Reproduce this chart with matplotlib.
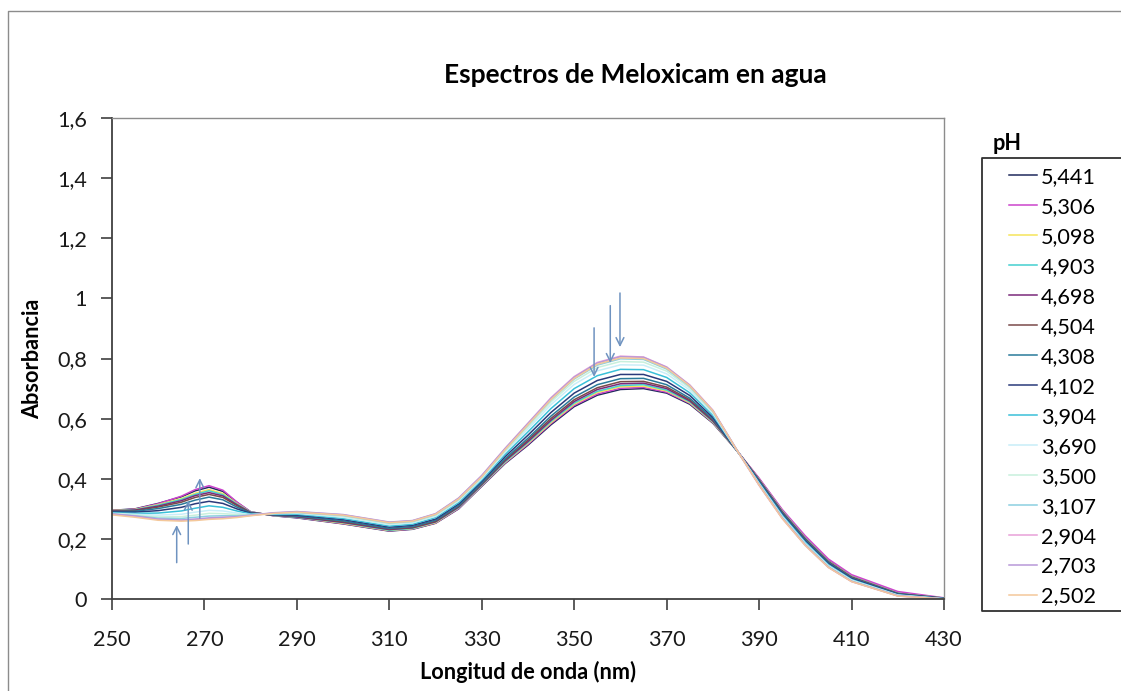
import matplotlib
matplotlib.use('Agg')
import matplotlib.pyplot as plt
from matplotlib.lines import Line2D

plt.rcParams['font.family'] = ['Lato', 'DejaVu Sans']

# wavelengths (nm) shared by every spectrum
wl = [250, 255, 260, 265, 268, 271, 274, 277, 280, 285, 290, 300, 310, 315, 320, 325,
      330, 335, 340, 345, 350, 355, 360, 365, 370, 375, 380, 385, 390, 395, 400,
      405, 410, 420, 430]

ph_labels = ['5,441', '5,306', '5,098', '4,903', '4,698', '4,504', '4,308', '4,102',
             '3,904', '3,690', '3,500', '3,107', '2,904', '2,703', '2,502']

ph_5441 = [0.295, 0.300, 0.318, 0.340, 0.360, 0.372, 0.358, 0.322, 0.290, 0.277, 0.270, 0.250, 0.226, 0.232, 0.252, 0.300,
           0.375, 0.450, 0.512, 0.580, 0.640, 0.678, 0.697, 0.700, 0.685, 0.648, 0.585, 0.497, 0.400, 0.295, 0.205,
           0.128, 0.076, 0.020, 0.003]
ph_5306 = [0.294, 0.299, 0.317, 0.342, 0.364, 0.377, 0.362, 0.323, 0.290, 0.277, 0.271, 0.251, 0.227, 0.233, 0.253, 0.301,
           0.376, 0.452, 0.515, 0.584, 0.644, 0.682, 0.701, 0.704, 0.688, 0.651, 0.587, 0.497, 0.402, 0.298, 0.210,
           0.133, 0.081, 0.025, 0.004]
ph_5098 = [0.294, 0.298, 0.314, 0.334, 0.352, 0.364, 0.351, 0.318, 0.289, 0.278, 0.272, 0.252, 0.228, 0.234, 0.254, 0.303,
           0.378, 0.454, 0.518, 0.587, 0.648, 0.687, 0.706, 0.708, 0.692, 0.653, 0.588, 0.497, 0.398, 0.293, 0.203,
           0.126, 0.075, 0.019, 0.003]
ph_4903 = [0.293, 0.297, 0.312, 0.331, 0.348, 0.360, 0.347, 0.316, 0.289, 0.278, 0.272, 0.254, 0.229, 0.235, 0.256, 0.304,
           0.379, 0.456, 0.521, 0.591, 0.652, 0.691, 0.710, 0.713, 0.695, 0.656, 0.590, 0.497, 0.397, 0.292, 0.202,
           0.125, 0.074, 0.019, 0.003]
ph_4698 = [0.293, 0.296, 0.309, 0.327, 0.344, 0.354, 0.343, 0.314, 0.288, 0.279, 0.273, 0.255, 0.231, 0.237, 0.257, 0.306,
           0.381, 0.459, 0.524, 0.595, 0.657, 0.697, 0.716, 0.718, 0.700, 0.659, 0.592, 0.498, 0.396, 0.290, 0.200,
           0.124, 0.073, 0.018, 0.003]
ph_4504 = [0.292, 0.294, 0.306, 0.322, 0.338, 0.348, 0.338, 0.311, 0.287, 0.279, 0.275, 0.257, 0.233, 0.238, 0.259, 0.308,
           0.383, 0.462, 0.529, 0.601, 0.663, 0.703, 0.723, 0.724, 0.705, 0.663, 0.595, 0.498, 0.395, 0.289, 0.199,
           0.123, 0.072, 0.018, 0.002]
ph_4308 = [0.291, 0.292, 0.301, 0.315, 0.329, 0.339, 0.330, 0.306, 0.286, 0.280, 0.276, 0.260, 0.235, 0.241, 0.262, 0.311,
           0.386, 0.466, 0.535, 0.609, 0.672, 0.713, 0.733, 0.734, 0.713, 0.668, 0.599, 0.498, 0.393, 0.286, 0.196,
           0.121, 0.070, 0.017, 0.002]
ph_4102 = [0.289, 0.289, 0.294, 0.305, 0.317, 0.325, 0.318, 0.300, 0.285, 0.281, 0.279, 0.264, 0.239, 0.245, 0.266, 0.316,
           0.391, 0.473, 0.545, 0.621, 0.685, 0.727, 0.747, 0.747, 0.724, 0.677, 0.604, 0.498, 0.390, 0.283, 0.193,
           0.118, 0.068, 0.016, 0.002]
ph_3904 = [0.287, 0.285, 0.286, 0.293, 0.302, 0.310, 0.305, 0.293, 0.283, 0.282, 0.282, 0.268, 0.243, 0.249, 0.271, 0.321,
           0.396, 0.480, 0.556, 0.634, 0.700, 0.743, 0.764, 0.763, 0.737, 0.686, 0.611, 0.499, 0.387, 0.279, 0.189,
           0.114, 0.065, 0.014, 0.001]
ph_3690 = [0.285, 0.282, 0.279, 0.282, 0.289, 0.295, 0.293, 0.286, 0.281, 0.284, 0.285, 0.272, 0.247, 0.253, 0.275, 0.326,
           0.401, 0.487, 0.566, 0.647, 0.714, 0.759, 0.779, 0.778, 0.749, 0.695, 0.617, 0.499, 0.384, 0.275, 0.185,
           0.111, 0.063, 0.013, 0.001]
ph_3500 = [0.284, 0.279, 0.273, 0.274, 0.279, 0.285, 0.284, 0.281, 0.280, 0.285, 0.287, 0.275, 0.250, 0.256, 0.278, 0.329,
           0.404, 0.492, 0.573, 0.656, 0.724, 0.770, 0.790, 0.788, 0.758, 0.702, 0.621, 0.500, 0.382, 0.272, 0.182,
           0.109, 0.061, 0.012, 0.000]
ph_3107 = [0.283, 0.277, 0.269, 0.268, 0.272, 0.276, 0.277, 0.277, 0.279, 0.285, 0.288, 0.278, 0.253, 0.258, 0.281, 0.332,
           0.407, 0.496, 0.579, 0.663, 0.732, 0.778, 0.799, 0.797, 0.765, 0.707, 0.625, 0.500, 0.380, 0.270, 0.180,
           0.107, 0.059, 0.011, 0.000]
ph_2904 = [0.282, 0.275, 0.265, 0.262, 0.264, 0.268, 0.270, 0.273, 0.278, 0.286, 0.290, 0.280, 0.255, 0.260, 0.283, 0.335,
           0.410, 0.500, 0.585, 0.670, 0.740, 0.787, 0.808, 0.805, 0.772, 0.712, 0.628, 0.500, 0.378, 0.268, 0.178,
           0.105, 0.058, 0.010, 0.000]
ph_2703 = [0.283, 0.276, 0.266, 0.263, 0.266, 0.270, 0.272, 0.274, 0.279, 0.287, 0.291, 0.281, 0.256, 0.261, 0.284, 0.336,
           0.411, 0.500, 0.584, 0.668, 0.738, 0.785, 0.806, 0.804, 0.771, 0.711, 0.627, 0.501, 0.380, 0.270, 0.180,
           0.106, 0.059, 0.011, 0.000]
ph_2502 = [0.280, 0.272, 0.262, 0.259, 0.261, 0.265, 0.267, 0.271, 0.277, 0.285, 0.289, 0.279, 0.254, 0.259, 0.282, 0.333,
           0.407, 0.496, 0.580, 0.664, 0.734, 0.781, 0.802, 0.800, 0.768, 0.709, 0.626, 0.500, 0.379, 0.268, 0.178,
           0.105, 0.058, 0.010, 0.000]

spectra = [ph_5441, ph_5306, ph_5098, ph_4903, ph_4698, ph_4504, ph_4308, ph_4102,
           ph_3904, ph_3690, ph_3500, ph_3107, ph_2904, ph_2703, ph_2502]

colors = ['#1f2a5c', '#cc44cc', '#f5e45a', '#44d0d0', '#7a2a7a', '#7a4a4a', '#2a7a9a', '#2a3a7a',
          '#3ac0d8', '#c8eef8', '#c8f0dc', '#8ccfe0', '#e8a0d8', '#b898d8', '#f4c89a']

xticks = [250, 270, 290, 310, 330, 350, 370, 390, 410, 430]
yticks = [0, 0.2, 0.4, 0.6, 0.8, 1.0, 1.2, 1.4, 1.6]
ytick_labels = ['0', '0,2', '0,4', '0,6', '0,8', '1', '1,2', '1,4', '1,6']

# arrows drawn on the original chart: (wavelength, start, end)
arrows_up = [(264.0, 0.121, 0.246), (266.5, 0.183, 0.327), (269.0, 0.269, 0.402)]
arrows_down = [(354.3, 0.902, 0.739), (357.8, 0.976, 0.785), (359.9, 1.018, 0.838)]

W, H = 1121, 691
fig = plt.figure(figsize=(W / 100, H / 100), dpi=100, facecolor='white')
ax = fig.add_axes([0.0999, 0.1331, 0.7422, 0.6961])

lines = []
for vals, col, lab in zip(spectra, colors, ph_labels):
    ln, = ax.plot(wl, vals, color=col, lw=1.1, label=lab)
    lines.append(ln)

arrow_col = '#6f93c0'
for x, y0, y1 in arrows_up + arrows_down:
    ax.annotate('', xy=(x, y1), xytext=(x, y0),
                arrowprops=dict(arrowstyle='->', color=arrow_col, lw=1.1,
                                shrinkA=0, shrinkB=0, mutation_scale=14))

ax.set_xlim(250, 430)
ax.set_ylim(0, 1.6)
ax.set_xticks(xticks)
ax.set_xticklabels([str(t) for t in xticks])
ax.set_yticks(yticks)
ax.set_yticklabels(ytick_labels)
ax.tick_params(axis='both', labelsize=15.6, colors='#404040', labelcolor='#1a1a1a',
               direction='out', length=8, width=1.2)
ax.tick_params(axis='x', pad=14)
ax.tick_params(axis='y', pad=10)

for side in ['left', 'bottom']:
    ax.spines[side].set_color('#404040')
    ax.spines[side].set_linewidth(1.3)
for side in ['top', 'right']:
    ax.spines[side].set_color('#8c8c8c')
    ax.spines[side].set_linewidth(1.0)

ax.set_xlabel('Longitud de onda (nm)', fontsize=15.6, fontweight='bold', labelpad=8)
ax.set_ylabel('Absorbancia', fontsize=15.6, fontweight='bold', labelpad=10)

fig.text(0.567, 0.892, 'Espectros de Meloxicam en agua', fontsize=19,
         fontweight='bold', ha='center', va='center')


def px_line(xs, ys, **kw):
    # line given in pixel coords measured from the top-left corner
    fig.add_artist(Line2D([x / W for x in xs], [1 - y / H for y in ys],
                          transform=fig.transFigure, **kw))


# outer chart border (only its top and left edges are inside the picture)
px_line([7.5, 7.5, W + 50], [H + 50, 11, 11], color='#8c8c8c', lw=1.0)
# legend box, cut by the right edge of the picture
px_line([W + 50, 982, 982, W + 50], [158, 158, 611, 611], color='#303030', lw=1.3)

fig.text(993 / W, 1 - 143 / H, 'pH', fontsize=15.6, fontweight='bold', va='center', ha='left')

fig.legend(handles=lines, loc='upper left', bbox_to_anchor=(1009 / W, 1 - 167 / H),
           frameon=False, fontsize=15.6, borderpad=0, borderaxespad=0,
           handlelength=1.3, handletextpad=0.18, labelspacing=0.46)

fig.savefig('out.png', dpi=100, facecolor='white')
